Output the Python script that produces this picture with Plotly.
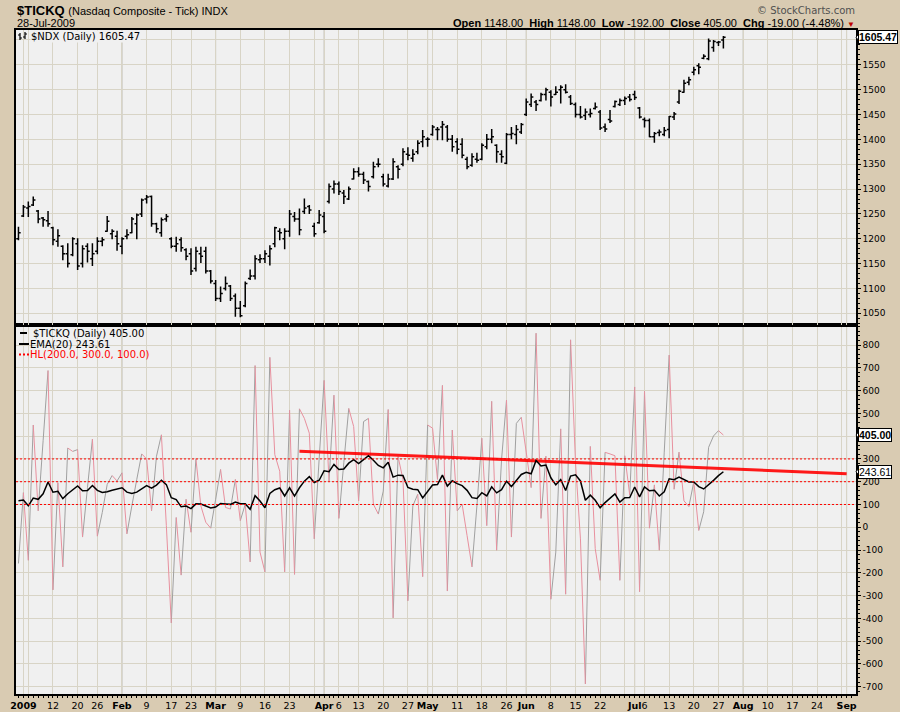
import pandas as pd
import plotly.graph_objects as go

# ---------------- data ----------------
start_date = "2008-12-31"
end_date = "2009-07-28"
holidays = ["2009-01-01", "2009-01-19", "2009-02-16", "2009-04-10", "2009-05-25", "2009-07-03", "2009-09-07"]

ndx_open = [1200, 1246, 1262, 1268, 1256, 1242, 1236, 1222, 1195, 1185, 1170, 1168, 1190, 1150, 1185, 1160, 1175, 1195,
            1215, 1210, 1205, 1185, 1205, 1212, 1230, 1250, 1280, 1285, 1230, 1212, 1240, 1200, 1185, 1198, 1178, 1170,
            1140, 1170, 1175, 1135, 1110, 1080, 1100, 1105, 1085, 1060, 1065, 1120, 1125, 1158, 1160, 1165, 1190, 1215,
            1200, 1215, 1245, 1240, 1255, 1265, 1225, 1232, 1245, 1275, 1300, 1310, 1292, 1280, 1320, 1335, 1330, 1315,
            1325, 1350, 1325, 1306, 1320, 1345, 1350, 1370, 1362, 1375, 1395, 1400, 1410, 1420, 1425, 1425, 1400, 1395,
            1390, 1360, 1348, 1360, 1360, 1385, 1400, 1388, 1370, 1352, 1410, 1410, 1415, 1450, 1470, 1475, 1478, 1490,
            1495, 1490, 1500, 1500, 1485, 1470, 1450, 1448, 1450, 1462, 1455, 1425, 1440, 1466, 1470, 1478, 1485, 1490,
            1463, 1440, 1438, 1405, 1414, 1410, 1420, 1445, 1475, 1495, 1515, 1535, 1548, 1563, 1562, 1585, 1595, 1600]
ndx_high = [1224, 1268, 1275, 1285, 1258, 1244, 1256, 1224, 1219, 1187, 1191, 1203, 1201, 1187, 1191, 1191, 1203, 1203,
            1246, 1219, 1216, 1203, 1219, 1244, 1251, 1281, 1288, 1287, 1232, 1243, 1250, 1203, 1204, 1203, 1181, 1181,
            1184, 1184, 1184, 1137, 1117, 1104, 1124, 1107, 1090, 1075, 1114, 1138, 1167, 1169, 1177, 1187, 1224, 1221,
            1221, 1258, 1254, 1261, 1281, 1268, 1232, 1258, 1254, 1311, 1317, 1315, 1298, 1305, 1342, 1344, 1335, 1317,
            1355, 1362, 1331, 1331, 1362, 1348, 1382, 1384, 1380, 1398, 1419, 1404, 1429, 1425, 1437, 1429, 1409, 1402,
            1402, 1365, 1372, 1373, 1392, 1411, 1421, 1390, 1378, 1413, 1425, 1429, 1433, 1482, 1492, 1479, 1494, 1504,
            1499, 1507, 1509, 1511, 1489, 1474, 1467, 1462, 1462, 1474, 1459, 1432, 1459, 1478, 1482, 1486, 1491, 1498,
            1465, 1444, 1442, 1415, 1420, 1425, 1447, 1455, 1500, 1520, 1526, 1546, 1553, 1571, 1603, 1600, 1598, 1608]
ndx_low = [1197, 1244, 1244, 1266, 1231, 1224, 1224, 1187, 1184, 1157, 1142, 1165, 1137, 1142, 1152, 1145, 1169, 1185,
           1214, 1199, 1176, 1169, 1199, 1211, 1199, 1244, 1271, 1224, 1212, 1204, 1234, 1181, 1174, 1174, 1157, 1127,
           1134, 1151, 1130, 1110, 1075, 1073, 1096, 1075, 1043, 1042, 1062, 1117, 1118, 1151, 1151, 1146, 1183, 1197,
           1179, 1204, 1234, 1207, 1250, 1250, 1204, 1230, 1211, 1271, 1291, 1288, 1270, 1278, 1319, 1325, 1310, 1295,
           1321, 1344, 1305, 1303, 1318, 1321, 1346, 1358, 1355, 1370, 1384, 1385, 1407, 1398, 1398, 1395, 1375, 1370,
           1362, 1340, 1345, 1353, 1358, 1380, 1392, 1353, 1353, 1350, 1400, 1390, 1411, 1447, 1465, 1457, 1476, 1478,
           1466, 1489, 1472, 1492, 1469, 1444, 1442, 1439, 1444, 1460, 1419, 1415, 1433, 1464, 1467, 1469, 1476, 1479,
           1442, 1424, 1404, 1393, 1406, 1406, 1402, 1439, 1471, 1494, 1509, 1529, 1531, 1561, 1559, 1576, 1588, 1583]
ndx_close = [1212, 1264, 1265, 1278, 1240, 1238, 1230, 1198, 1206, 1170, 1150, 1200, 1145, 1180, 1175, 1170, 1195, 1198,
             1235, 1215, 1190, 1200, 1208, 1240, 1248, 1278, 1284, 1230, 1220, 1238, 1245, 1185, 1190, 1182, 1165, 1135,
             1175, 1165, 1135, 1115, 1080, 1090, 1110, 1080, 1060, 1045, 1110, 1125, 1160, 1160, 1170, 1180, 1222, 1212,
             1215, 1250, 1240, 1218, 1262, 1258, 1210, 1248, 1215, 1305, 1310, 1295, 1285, 1300, 1335, 1330, 1318, 1305,
             1345, 1350, 1310, 1320, 1355, 1340, 1375, 1368, 1370, 1392, 1405, 1400, 1425, 1420, 1430, 1400, 1385, 1380,
             1368, 1345, 1365, 1358, 1388, 1400, 1405, 1375, 1365, 1410, 1412, 1420, 1430, 1475, 1485, 1470, 1490, 1500,
             1485, 1495, 1505, 1495, 1472, 1450, 1445, 1455, 1452, 1465, 1423, 1421, 1437, 1476, 1478, 1482, 1480, 1484,
             1445, 1438, 1405, 1412, 1415, 1418, 1446, 1451, 1497, 1513, 1520, 1540, 1545, 1567, 1598, 1597, 1596, 1605.47]

tickq = [-159, 152, -145, 449, 72, 380, 688, -275, 196, -174, 348, 333, 341, -43, 174, 387, -39, 65, 188, 227, 203, 239,
         -29, 94, 210, 322, 300, 72, 312, 406, 7, -420, 43, -210, 123, -22, 300, 94, 22, -4, 123, 254, 87, 80, 210, 29,
         101, -152, 710, -109, -196, 746, 319, 246, -196, 514, -207, 520,
         478, 413, -51, 300, 645, 203, 580, 39, 283, 522, 442, 116, 464, 478, 101, 58, 159, 517, -398, 311, 210, -323,
         94, 145, -217, 449, 435, 210, 623, -280, 427, 72, 101, -36, -174, 94, 391, 7, 553, -101, 297, 558, -43, 456,
         483, 330, 174, 852, 39, 312, -316, -109, 432, -294, 823, 283, -51, -688, 355, -94,
         -233, 329, 322, 314, -233, 314, 141, 616, -283, 597, -4, 186, -101, 330, 756, 167, 330, 116, 91, 200, -14, 68,
         351, 401, 424, 405]
ema_start = 116          # EMA(20) value at the first plotted day
ema_period = 20
ema_last_label = 243.61

hl_levels = [200, 300, 100]
trend_dates = ["2009-03-25", "2009-09-01"]
trend_values = [334, 235]

tick_dates = ["2009-01-02", "2009-01-12", "2009-01-20", "2009-01-26", "2009-02-02", "2009-02-09", "2009-02-17",
              "2009-02-23", "2009-03-02", "2009-03-09", "2009-03-16", "2009-03-23", "2009-04-01", "2009-04-06",
              "2009-04-13", "2009-04-20", "2009-04-27", "2009-05-01", "2009-05-11", "2009-05-18", "2009-05-26",
              "2009-06-01", "2009-06-08", "2009-06-15", "2009-06-22", "2009-07-01", "2009-07-06", "2009-07-13",
              "2009-07-20", "2009-07-27", "2009-08-03", "2009-08-10", "2009-08-17", "2009-08-24", "2009-09-01"]
tick_labels = ["2009", "12", "20", "26", "Feb", "9", "17", "23", "Mar", "9", "16", "23", "Apr", "6", "13", "20", "27",
               "May", "11", "18", "26", "Jun", "8", "15", "22", "Jul", "6", "13", "20", "27", "Aug", "10", "17", "24",
               "Sep"]
bold_labels = ["2009", "Feb", "Mar", "Apr", "May", "Jun", "Jul", "Aug", "Sep"]
extra_grid_dates = ["2009-01-05", "2009-03-30", "2009-05-04", "2009-06-29", "2009-08-31"]
month_dates = ["2009-02-02", "2009-03-02", "2009-04-01", "2009-05-01", "2009-06-01", "2009-07-01", "2009-08-03",
               "2009-09-01"]

ndx_y_ticks = list(range(1050, 1601, 50))
tick_y_ticks = list(range(-700, 801, 100))

# ---------------- derived ----------------
cal = pd.bdate_range("2008-12-31", "2009-09-04")
cal = cal[~cal.isin(pd.to_datetime(holidays))]
pos = {d.strftime("%Y-%m-%d"): k for k, d in enumerate(cal)}
x = list(range(pos[start_date], pos[end_date] + 1))
n = min(len(x), len(tickq))
x = x[:n]

ema = [ema_start]
for v in tickq[1:n]:
    ema.append(ema[-1] + (v - ema[-1]) * 2 / (ema_period + 1))

up_x, up_y, dn_x, dn_y = [], [], [], []
for k in range(n - 1):
    if tickq[k + 1] >= tickq[k]:
        up_x += [x[k], x[k + 1], None]
        up_y += [tickq[k], tickq[k + 1], None]
    else:
        dn_x += [x[k], x[k + 1], None]
        dn_y += [tickq[k], tickq[k + 1], None]

TAN = "#D9CBB2"
PLOT_BG = "#F0F0F0"
GRID = "#D8D4C6"
MONTH = "#BDBBB2"
AX_FONT = dict(family="DejaVu Sans", size=9, color="black")

L, R, T, B, W, H = 16, 856, 30, 694, 900, 712


def PX(px):
    return (px - L) / (R - L)


def PY(py):
    return (B - py) / (B - T)


split = PY(325)

fig = go.Figure()
fig.add_trace(go.Ohlc(x=x, open=ndx_open[:n], high=ndx_high[:n], low=ndx_low[:n], close=ndx_close[:n],
                      xaxis="x2", yaxis="y",
                      increasing=dict(line=dict(color="black", width=1.5)),
                      decreasing=dict(line=dict(color="black", width=1.5)),
                      tickwidth=0.45, hoverinfo="skip"))
fig.add_trace(go.Scatter(x=up_x, y=up_y, mode="lines", line=dict(color="#A0A0A0", width=1), xaxis="x", yaxis="y2",
                         hoverinfo="skip"))
fig.add_trace(go.Scatter(x=dn_x, y=dn_y, mode="lines", line=dict(color="#E8909E", width=1), xaxis="x", yaxis="y2",
                         hoverinfo="skip"))
fig.add_trace(go.Scatter(x=[pos[d] for d in trend_dates], y=trend_values, mode="lines",
                         line=dict(color="rgba(255,0,0,0.9)", width=3), xaxis="x", yaxis="y2", hoverinfo="skip"))
fig.add_trace(go.Scatter(x=x, y=ema, mode="lines", line=dict(color="black", width=1.5), xaxis="x", yaxis="y2",
                         hoverinfo="skip"))

grid_vals = [pos[d] for d in tick_dates] + [pos[d] for d in extra_grid_dates]
grid_text = [("<b>%s</b>" % t) if t in bold_labels else t for t in tick_labels]
grid_text += [""] * len(extra_grid_dates)

xcommon = dict(range=[-0.5, 169.9], tickmode="array", tickvals=grid_vals, showgrid=True, gridcolor=GRID,
               gridwidth=1, zeroline=False, showline=True, mirror=True, linecolor="black", linewidth=1.5,
               rangeslider=dict(visible=False), fixedrange=True, automargin=False, tickangle=0)
ycommon = dict(side="right", showgrid=True, gridcolor=GRID, gridwidth=1, zeroline=False, showline=True,
               mirror=True, linecolor="black", linewidth=1.5, ticks="outside", ticklen=3, tickcolor="black",
               tickfont=AX_FONT, fixedrange=True, automargin=False)

fig.update_layout(
    width=W, height=H, margin=dict(l=L, r=W - R, t=T, b=H - B, autoexpand=False), paper_bgcolor=TAN,
    plot_bgcolor=PLOT_BG, showlegend=False,
    xaxis=dict(domain=[0, 1], anchor="y2", ticktext=grid_text, ticks="outside", ticklen=2, tickcolor="black",
               tickfont=dict(family="DejaVu Sans", size=9.5, color="black"),
               minor=dict(ticks="outside", ticklen=2, tickcolor="black", tickmode="linear",
                          tick0=0, dtick=1, showgrid=False), **xcommon),
    xaxis2=dict(domain=[0, 1], anchor="y", matches="x", showticklabels=False, ticks="", **xcommon),
    yaxis=dict(domain=[split, 1], anchor="x2", range=[1026.5, 1620], tickmode="array", tickvals=ndx_y_ticks,
               ticktext=[str(v) if v != 1600 else "" for v in ndx_y_ticks],
               minor=dict(ticks="outside", ticklen=2, tickcolor="black", tickmode="linear", tick0=0, dtick=10,
                          showgrid=False), **ycommon),
    yaxis2=dict(domain=[0, split], anchor="x", range=[-732, 888], tickmode="array", tickvals=tick_y_ticks,
                ticktext=[str(v) if v != 400 else "" for v in tick_y_ticks],
                minor=dict(ticks="outside", ticklen=2, tickcolor="black", tickmode="linear", tick0=0, dtick=20,
                           showgrid=False), **ycommon),
)

shapes = []
for d in month_dates:
    shapes.append(dict(type="line", xref="x", yref="paper", x0=pos[d], x1=pos[d], y0=0, y1=1,
                       line=dict(color=MONTH, width=1), layer="between"))
for lvl in hl_levels:
    shapes.append(dict(type="line", xref="paper", yref="y2", x0=0, x1=1, y0=lvl, y1=lvl,
                       line=dict(color="#FF0000", width=1, dash="2px,2px"), layer="above"))


def seg(x0, y0, x1, y1, color="black", width=1.2, dash=None):
    ln = dict(color=color, width=width)
    if dash:
        ln["dash"] = dash
    return dict(type="line", xref="paper", yref="paper", x0=PX(x0), y0=PY(y0), x1=PX(x1), y1=PY(y1), line=ln)


# small OHLC icon of the price legend
shapes += [seg(20, 33, 20, 40), seg(18, 35, 20, 35), seg(20, 38, 22, 38),
           seg(25, 32, 25, 39), seg(23, 37, 25, 37), seg(25, 34, 27, 34)]
# legend keys of the indicator panel
shapes += [seg(20, 333, 27, 333, width=2), seg(19, 344, 29, 344, width=2),
           seg(19, 354.5, 29, 354.5, color="#FF0000", width=2, dash="2px,2px")]


# value tags on the right axis
def notch(yref, yval):
    return dict(type="path", xref="paper", xsizemode="pixel", xanchor=1, yref=yref, ysizemode="pixel",
                yanchor=yval, path="M 0,0 L 4,5 L 4,-5 Z", fillcolor="white", line=dict(color="black", width=1))


shapes += [notch("y", ndx_close[-1]), notch("y2", tickq[-1]), notch("y2", ema_last_label)]
fig.update_layout(shapes=shapes)

HF = "Liberation Sans"
ann = []
ann.append(dict(xref="paper", yref="paper", x=PX(15), y=PY(10), xanchor="left", yanchor="middle", showarrow=False,
                text="<b>$TICKQ</b> <span style='font-size:11px'>(Nasdaq Composite - Tick) INDX</span>",
                font=dict(family=HF, size=13, color="black")))
ann.append(dict(xref="paper", yref="paper", x=PX(15), y=PY(23.5), xanchor="left", yanchor="middle", showarrow=False,
                text="28-Jul-2009", font=dict(family=HF, size=11, color="black")))
ann.append(dict(xref="paper", yref="paper", x=PX(857), y=PY(10), xanchor="right", yanchor="middle", showarrow=False,
                text="\u00a9 StockCharts.com", font=dict(family="DejaVu Sans", size=10, color="#505050")))
ann.append(dict(xref="paper", yref="paper", x=PX(857), y=PY(23.5), xanchor="right", yanchor="middle",
                showarrow=False,
                text="<b>Open</b> 1148.00  <b>High</b> 1148.00  <b>Low</b> -192.00  <b>Close</b> 405.00  "
                     "<b>Chg</b> -19.00 (-4.48%) <span style='color:#C00000;font-size:8px'>\u25bc</span>",
                font=dict(family=HF, size=11, color="black")))
ann.append(dict(xref="paper", yref="paper", x=PX(30), y=PY(36), xanchor="left", yanchor="middle", showarrow=False,
                text="$NDX (Daily) %.2f" % ndx_close[-1], bgcolor=PLOT_BG, borderpad=0,
                font=dict(family="DejaVu Sans", size=10, color="black")))
ann.append(dict(xref="paper", yref="paper", x=PX(31), y=PY(333), xanchor="left", yanchor="middle", showarrow=False,
                text="$TICKQ (Daily) %.2f" % tickq[-1], font=dict(family="DejaVu Sans", size=10, color="black")))
ann.append(dict(xref="paper", yref="paper", x=PX(28), y=PY(344), xanchor="left", yanchor="middle", showarrow=False,
                text="EMA(20) %.2f" % ema_last_label, font=dict(family="DejaVu Sans", size=10, color="black")))
ann.append(dict(xref="paper", yref="paper", x=PX(28), y=PY(354.5), xanchor="left", yanchor="middle",
                showarrow=False, text="HL(%.1f, %.1f, %.1f)" % tuple(hl_levels),
                font=dict(family="DejaVu Sans", size=10, color="#FF0000")))


def tag(yref, yval, text, bold):
    return dict(xref="paper", yref=yref, x=1, y=yval, xanchor="left", yanchor="middle", xshift=2, showarrow=False,
                text=("<b>%s</b>" % text) if bold else text, bgcolor="white", bordercolor="black", borderwidth=1,
                borderpad=0, font=dict(family=HF, size=10.5, color="black"))


ann.append(tag("y", ndx_close[-1], "%.2f" % ndx_close[-1], True))
ann.append(tag("y2", tickq[-1], "%.2f" % tickq[-1], True))
ann.append(tag("y2", ema_last_label, "%.2f" % ema_last_label, False))
fig.update_layout(annotations=ann)

fig.write_html("out.html")
